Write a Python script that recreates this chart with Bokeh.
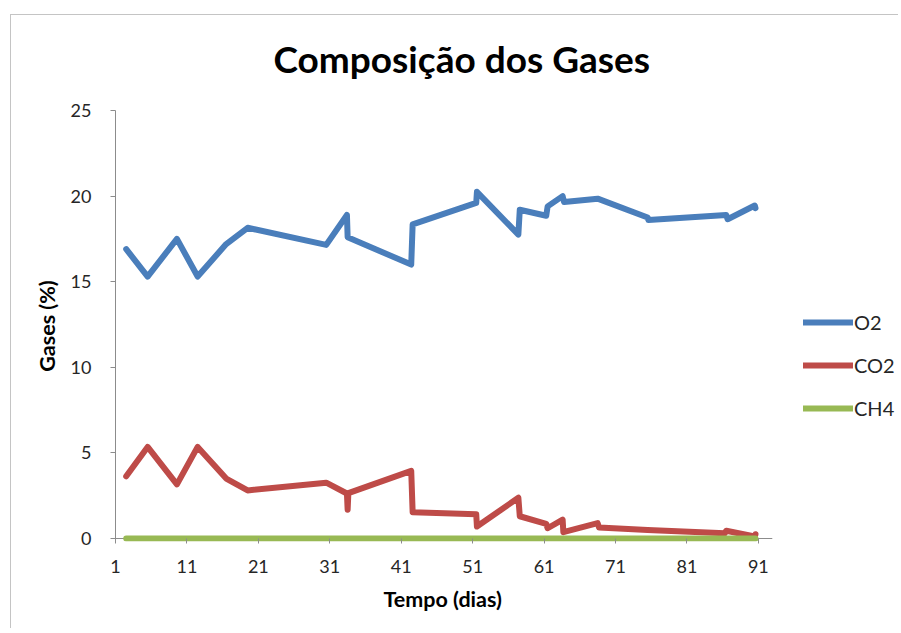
from bokeh.plotting import figure
from bokeh.models import FixedTicker, Legend, LegendItem, Range1d, Title
from bokeh.embed import file_html
from bokeh.resources import INLINE

# ---- data ----
o2_days = [2.5, 5.5, 9.6, 12.5, 16.5, 19.5, 30.5, 33.4, 33.5, 42.4, 42.6, 51.5, 51.6,
           57.4, 57.6, 61.3, 61.5, 63.6, 63.8, 68.5, 75.5, 75.6, 86.5, 86.7, 90.5, 90.6]
o2_vals = [16.9, 15.3, 17.5, 15.3, 17.2, 18.15, 17.15, 18.9, 17.6, 16.0, 18.35, 19.6, 20.25,
           17.75, 19.2, 18.85, 19.4, 20.0, 19.65, 19.85, 18.75, 18.6, 18.9, 18.65, 19.45, 19.3]

co2_days = [2.5, 5.5, 9.6, 12.5, 16.5, 19.5, 30.5, 33.4, 33.5, 33.6, 42.4, 42.6, 51.5, 51.6,
            57.4, 57.6, 61.3, 61.5, 63.6, 63.7, 68.5, 68.7, 75.5, 86.3, 86.5, 90.5, 90.6]
co2_vals = [3.63, 5.35, 3.16, 5.35, 3.5, 2.81, 3.26, 2.63, 1.68, 2.65, 3.95, 1.54, 1.42, 0.7,
            2.38, 1.3, 0.86, 0.6, 1.1, 0.37, 0.9, 0.64, 0.5, 0.3, 0.45, 0.12, 0.25]

ch4_days = o2_days
ch4_vals = [0.0] * len(o2_days)

x_ticks = [1, 11, 21, 31, 41, 51, 61, 71, 81, 91]
y_ticks = [0, 5, 10, 15, 20, 25]

title_text = "Composição dos Gases"
x_label = "Tempo (dias)"
y_label = "Gases (%)"
series_names = ["O2", "CO2", "CH4"]
colors = ["#4A7EBB", "#BE4B48", "#98B954"]

FONT = "Lato"
AXIS_GRAY = "#8c8c8c"
BORDER_GRAY = "#c4c4c4"
X_AXIS_START, X_AXIS_END = 1, 92.95      # visible extent of the x axis line
X_FRAME_END = 110.62                       # frame continues right to hold the legend

p = figure(width=898, height=628, output_backend="svg", toolbar_location=None,
           x_range=Range1d(X_AXIS_START, X_FRAME_END), y_range=Range1d(-0.175, 25),
           min_border_left=115, min_border_right=0, min_border_top=110,
           min_border_bottom=87)
# outer chart-area border (left and top edges), drawn as CSS background lines
p.border_fill_alpha = 0
p.styles = {
    "background-color": "white",
    "background-image": f"linear-gradient({BORDER_GRAY}, {BORDER_GRAY}), "
                        f"linear-gradient({BORDER_GRAY}, {BORDER_GRAY})",
    "background-size": "100% 1px, 1px 100%",
    "background-position": "10px 14px, 10px 14px",
    "background-repeat": "no-repeat",
}

p.title = Title(text=title_text, text_font=FONT, text_font_size="37px",
                text_font_style="bold", text_color="#000000", align="left",
                offset=158, standoff=60)

p.grid.visible = False
p.outline_line_color = None
p.background_fill_color = "white"

for ax in (p.xaxis[0], p.yaxis[0]):
    ax.axis_line_color = AXIS_GRAY
    ax.major_tick_line_color = AXIS_GRAY
    ax.minor_tick_line_color = None
    ax.major_label_text_font = FONT
    ax.major_label_text_font_size = "18px"
    ax.major_label_text_color = "#262626"
    ax.axis_label_text_font = FONT
    ax.axis_label_text_font_size = "21.5px"
    ax.axis_label_text_font_style = "bold"
    ax.axis_label_text_color = "#000000"

xa = p.xaxis[0]
xa.ticker = FixedTicker(ticks=x_ticks)
xa.axis_line_color = None          # drawn as a segment at y = 0 instead
xa.major_tick_in = 3
xa.major_tick_out = 2
xa.major_label_standoff = 16

ya = p.yaxis[0]
ya.ticker = FixedTicker(ticks=y_ticks)
ya.axis_label = y_label
ya.major_tick_in = 0
ya.major_tick_out = 5
ya.major_label_standoff = 19
ya.axis_label_standoff = 8

# x axis title, centred under the visible axis line
p.add_layout(Title(text=x_label, text_font=FONT, text_font_size="21.5px",
                   text_font_style="bold", text_color="#000000", align="left",
                   offset=268, standoff=16), "below")

# x axis line
p.segment(x0=[X_AXIS_START], y0=[0], x1=[X_AXIS_END], y1=[0],
          line_color=AXIS_GRAY, line_width=1)

renderers = []
for xs, ys, c in ((o2_days, o2_vals, colors[0]), (co2_days, co2_vals, colors[1]),
                  (ch4_days, ch4_vals, colors[2])):
    r = p.line(xs, ys, line_color=c, line_width=6, line_join="round", line_cap="round")
    renderers.append(r)

legend = Legend(items=[LegendItem(label=n, renderers=[rr]) for n, rr in zip(series_names, renderers)],
                location=(688, 121), orientation="vertical",
                glyph_width=50, glyph_height=24, label_height=24, spacing=19,
                padding=0, margin=0, label_standoff=1,
                label_text_font=FONT, label_text_font_size="20px",
                label_text_color="#262626", border_line_color=None,
                background_fill_alpha=0)
p.add_layout(legend, "center")

open("out.html", "w").write(file_html(p, INLINE))
